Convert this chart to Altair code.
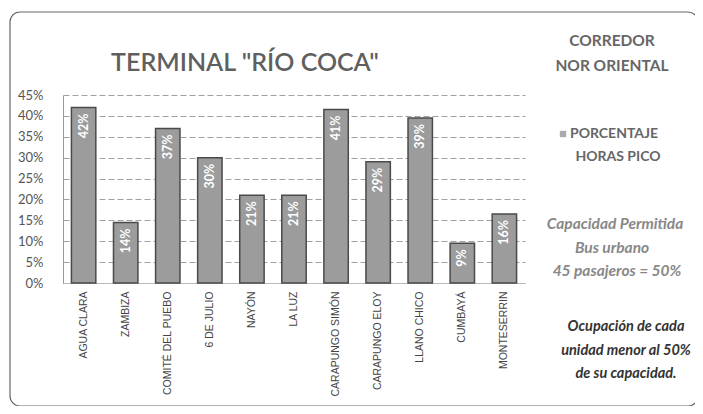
import altair as alt
import pandas as pd

stops = ["AGUA CLARA", "ZAMBIZA", "COMITÉ DEL PUEBO", "6 DE JULIO", "NAYÓN", "LA LUZ",
         "CARAPUNGO SIMÓN", "CARAPUNGO ELOY", "LLANO CHICO", "CUMBAYÁ", "MONTESERRIN"]
values = [0.42, 0.145, 0.37, 0.30, 0.21, 0.21, 0.415, 0.29, 0.395, 0.095, 0.165]
labels = ["42%", "14%", "37%", "30%", "21%", "21%", "41%", "29%", "39%", "9%", "16%"]
y_ticks = [0, 0.05, 0.10, 0.15, 0.20, 0.25, 0.30, 0.35, 0.40, 0.45]

df = pd.DataFrame({"stop": stops, "value": values, "label": labels})

W, H = 462, 188
FONT = "Lato"

y_axis = alt.Axis(values=y_ticks, format=".0%", labelFontSize=13,
                  labelColor="#555", labelFont=FONT, ticks=False,
                  labelOverlap=False, labelFlush=False,
                  domain=True, domainColor="#999", labelPadding=20,
                  grid=True, gridDash=[6, 3], gridColor="#888",
                  gridWidth=0.8)

base = alt.Chart(df).encode(
    x=alt.X("stop:N", sort=stops, title=None,
            scale=alt.Scale(paddingInner=0.42, paddingOuter=0.2),
            axis=alt.Axis(labelAngle=-90, labelFontSize=10.5, labelColor="#444",
                          labelFont="Liberation Sans", ticks=False, domain=True,
                          domainColor="#bbb", labelPadding=8, labelLimit=200)),
    y=alt.Y("value:Q", title=None,
            scale=alt.Scale(domain=[0, 0.45], nice=False), axis=y_axis),
)

bars = base.mark_bar(color="#9c9c9c", stroke="#4a4a4a", strokeWidth=1.5)

bar_text = base.mark_text(angle=270, align="right", baseline="middle", dx=-6,
                          color="white", fontWeight="bold", fontSize=12.5,
                          font=FONT).encode(text="label:N")

def txt(s, x, y, size=14, weight="bold", style="normal", color="#666", align="center"):
    return alt.Chart(alt.Data(values=[{}])).mark_text(
        text=s, fontSize=size, fontWeight=weight, fontStyle=style, color=color,
        font=FONT, align=align, baseline="middle").encode(
        x=alt.value(x - 63), y=alt.value(y - 95))

border = alt.Chart(alt.Data(values=[{}])).mark_rect(
    fill=None, stroke="#666", strokeWidth=1.2, cornerRadius=10).encode(
    x=alt.value(10 - 63), x2=alt.value(698 - 63),
    y=alt.value(12 - 95), y2=alt.value(406 - 95))

legend_sq = alt.Chart(alt.Data(values=[{}])).mark_square(
    size=40, color="#888").encode(x=alt.value(563 - 63), y=alt.value(134 - 95))

layers = [
    border, bars, bar_text,
    txt('TERMINAL "RÍO COCA"', 245, 63, size=25, weight=600, color="#5f5f5f"),
    txt("CORREDOR", 612, 41, size=15.5, color="#666"),
    txt("NOR ORIENTAL", 612, 66, size=15.5, color="#666"),
    legend_sq,
    txt("PORCENTAJE", 570, 134, size=14, color="#666", align="left"),
    txt("HORAS PICO", 618, 157, size=14, color="#666"),
    txt("Capacidad Permitida", 615, 224, size=15.5, style="italic", color="#888"),
    txt("Bus urbano", 612, 248, size=15.5, style="italic", color="#888"),
    txt("45 pasajeros = 50%", 617, 271, size=15.5, style="italic", color="#888"),
    txt("Ocupación de cada", 626, 327, size=14.5, style="italic", color="#333"),
    txt("unidad menor al 50%", 626, 351, size=14.5, style="italic", color="#333"),
    txt("de su capacidad.", 626, 374, size=14.5, style="italic", color="#333"),
]

chart = alt.layer(*layers).properties(
    width=W, height=H,
    autosize=alt.AutoSizeParams(type="none"),
    padding={"left": 55, "top": 87, "right": 170, "bottom": 123},
    background="white",
).configure_view(stroke=None)

chart.save("out.html", embed_options={"renderer": "svg", "actions": False})
